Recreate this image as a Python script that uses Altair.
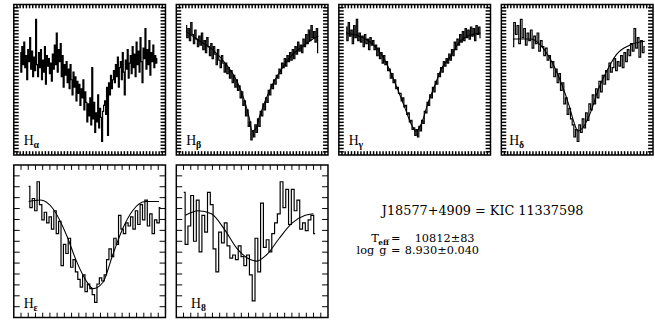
import altair as alt
import pandas as pd
import numpy as np

# ---------------- data (normalised flux vs relative wavelength) ----------------
ha_range = [0.043, 0.946]
ha_flux = [0.68, 0.55, 0.72, 0.60, 0.75, 0.58, 0.66, 0.50, 0.70, 0.62, 0.78, 0.57, 0.69, 0.52,
           0.65, 0.56, 0.90, 0.60, 0.52, 0.68, 0.58, 0.70, 0.50, 0.63, 0.55, 0.72, 0.47, 0.66, 0.59, 0.64,
           0.54, 0.61, 0.49, 0.67, 0.57, 0.73, 0.60, 0.81, 0.55, 0.70, 0.62, 0.74, 0.52, 0.66, 0.45, 0.60, 0.53,
           0.62, 0.48, 0.57, 0.44, 0.60, 0.50, 0.40, 0.55, 0.45, 0.52, 0.36, 0.49, 0.41, 0.47, 0.33, 0.44, 0.38,
           0.50, 0.30, 0.42, 0.35,
           0.22, 0.34, 0.26, 0.38, 0.20, 0.58, 0.24, 0.35, 0.15, 0.28, 0.22, 0.40, 0.18, 0.31, 0.25, 0.09, 0.29, 0.33,
           0.36, 0.27, 0.45, 0.13, 0.48, 0.40, 0.53, 0.44, 0.50, 0.56,
           0.48, 0.60, 0.52, 0.65, 0.45, 0.58, 0.62, 0.50, 0.68, 0.55, 0.40, 0.63, 0.57, 0.70, 0.51, 0.61, 0.66, 0.54,
           0.72, 0.58, 0.67, 0.52, 0.75, 0.60, 0.69, 0.55, 0.78, 0.62, 0.48, 0.71, 0.64, 0.84, 0.57, 0.70, 0.60,
           0.76, 0.53, 0.68, 0.62, 0.73, 0.58, 0.66, 0.61, 0.64]

hb_range = [0.064, 0.936]
hb_flux = [0.86, 0.78, 0.84, 0.76, 0.88, 0.80, 0.74, 0.83, 0.77, 0.72,
           0.79, 0.73, 0.81, 0.70, 0.76, 0.68, 0.78, 0.72, 0.66, 0.74,
           0.64, 0.72, 0.67, 0.60, 0.70, 0.63, 0.58, 0.66, 0.61, 0.55,
           0.61, 0.54, 0.58, 0.51, 0.56, 0.48, 0.53, 0.45, 0.50, 0.43,
           0.46, 0.38, 0.42, 0.33, 0.36, 0.26, 0.30, 0.19, 0.22, 0.10,
           0.16, 0.12, 0.20, 0.15, 0.24, 0.19, 0.29, 0.26, 0.34, 0.30,
           0.38, 0.35, 0.43, 0.40, 0.47, 0.44, 0.50, 0.47, 0.53, 0.51,
           0.57, 0.54, 0.61, 0.58, 0.64, 0.59, 0.66, 0.62, 0.68, 0.63,
           0.70, 0.64, 0.72, 0.67, 0.75, 0.69, 0.73, 0.68, 0.77, 0.72,
           0.80, 0.74, 0.83, 0.76, 0.86, 0.78, 0.82, 0.75, 0.84, 0.68]
hb_model_x = [0.064, 0.15, 0.25, 0.33, 0.40, 0.45, 0.48, 0.50, 0.52, 0.55, 0.59, 0.64, 0.70, 0.76, 0.83, 0.90, 0.936]
hb_model_y = [0.82, 0.76, 0.69, 0.60, 0.49, 0.36, 0.25, 0.16, 0.17, 0.26, 0.37, 0.48, 0.58, 0.66, 0.72, 0.77, 0.79]

hg_range = [0.048, 0.935]
hg_flux = [0.85, 0.76, 0.88, 0.79, 0.83, 0.74, 0.86, 0.78, 0.90, 0.76,
           0.81, 0.75, 0.79, 0.72, 0.80, 0.74, 0.77, 0.70, 0.78, 0.73,
           0.76, 0.70, 0.73, 0.66, 0.71, 0.64, 0.68, 0.61, 0.66, 0.60,
           0.62, 0.56, 0.57, 0.51, 0.54, 0.48, 0.50, 0.44, 0.45, 0.41,
           0.41, 0.36, 0.38, 0.32, 0.33, 0.27, 0.28, 0.22, 0.23, 0.17,
           0.18, 0.13, 0.17, 0.12, 0.19, 0.16, 0.23, 0.21, 0.29, 0.28,
           0.35, 0.33, 0.40, 0.38, 0.45, 0.42, 0.49, 0.47, 0.54, 0.52,
           0.58, 0.55, 0.62, 0.59, 0.64, 0.61, 0.67, 0.63, 0.70, 0.66,
           0.75, 0.70, 0.77, 0.73, 0.80, 0.75, 0.82, 0.76, 0.84, 0.78,
           0.83, 0.77, 0.85, 0.79, 0.84, 0.76, 0.86, 0.80, 0.85, 0.78]
hg_model_x = [0.048, 0.156, 0.22, 0.286, 0.35, 0.394, 0.437, 0.48, 0.506, 0.545, 0.589, 0.632, 0.675, 0.74, 0.78, 0.85, 0.935]
hg_model_y = [0.81, 0.78, 0.74, 0.66, 0.53, 0.42, 0.31, 0.20, 0.16, 0.21, 0.35, 0.46, 0.57, 0.66, 0.73, 0.79, 0.81]

hd_range = [0.076, 0.946]
hd_flux = [0.72, 0.88, 0.80, 0.86, 0.74, 0.90, 0.78, 0.84, 0.73, 0.81,
           0.76, 0.83, 0.71, 0.79, 0.74, 0.81, 0.69, 0.76, 0.72, 0.66,
           0.71, 0.63, 0.66, 0.58, 0.62, 0.52, 0.57, 0.48, 0.54, 0.43,
           0.48, 0.34, 0.38, 0.27, 0.31, 0.24, 0.20, 0.12, 0.17, 0.09,
           0.20, 0.15, 0.24, 0.18, 0.28, 0.23, 0.34, 0.30, 0.40, 0.34,
           0.44, 0.38, 0.49, 0.42, 0.53, 0.47, 0.56, 0.50, 0.61, 0.55,
           0.58, 0.64, 0.56, 0.62, 0.59, 0.66, 0.58, 0.68, 0.62, 0.70,
           0.66, 0.74, 0.69, 0.84, 0.71, 0.78, 0.65, 0.76, 0.68, 0.72]
hd_model_x = [0.076, 0.196, 0.283, 0.348, 0.402, 0.446, 0.478, 0.504, 0.543, 0.587, 0.641, 0.696, 0.761, 0.848, 0.946]
hd_model_y = [0.77, 0.77, 0.70, 0.59, 0.46, 0.33, 0.22, 0.16, 0.19, 0.28, 0.44, 0.56, 0.67, 0.73, 0.755]

he_range = [0.098, 0.967]
he_flux = [0.86, 0.72, 0.78, 0.70, 0.89, 0.74, 0.64, 0.69, 0.62, 0.66,
           0.58, 0.70, 0.55, 0.63, 0.34, 0.48, 0.42, 0.52, 0.33, 0.38,
           0.30, 0.25, 0.20, 0.28, 0.17, 0.22, 0.19, 0.15, 0.10, 0.22,
           0.26, 0.24, 0.28, 0.38, 0.45, 0.40, 0.52, 0.48, 0.67, 0.58,
           0.55, 0.62, 0.60, 0.66, 0.58, 0.70, 0.61, 0.74, 0.64, 0.77,
           0.60, 0.68, 0.55, 0.64, 0.62, 0.72]
he_model_x = [0.098, 0.174, 0.261, 0.348, 0.413, 0.478, 0.522, 0.587, 0.652, 0.717, 0.783, 0.870, 0.957]
he_model_y = [0.76, 0.77, 0.71, 0.54, 0.37, 0.24, 0.19, 0.23, 0.41, 0.58, 0.70, 0.76, 0.76]

h8_range = [0.049, 0.915]
h8_flux = [0.82, 0.48, 0.60, 0.80, 0.50, 0.77, 0.43, 0.67, 0.56, 0.82,
           0.74, 0.45, 0.30, 0.56, 0.49, 0.62, 0.47, 0.39, 0.41, 0.38,
           0.47, 0.40, 0.34, 0.41, 0.28, 0.11, 0.52, 0.30, 0.75, 0.46,
           0.51, 0.43, 0.55, 0.62, 0.68, 0.89, 0.72, 0.84, 0.61, 0.84,
           0.70, 0.77, 0.58, 0.62, 0.57, 0.64, 0.67, 0.55]
h8_model_x = [0.06, 0.145, 0.231, 0.316, 0.402, 0.487, 0.53, 0.594, 0.679, 0.765, 0.85, 0.904]
h8_model_y = [0.67, 0.70, 0.68, 0.58, 0.45, 0.38, 0.37, 0.41, 0.52, 0.62, 0.67, 0.68]

title_text = "J18577+4909 = KIC 11337598"
teff_text = "10812\u00b183"
logg_text = "8.930\u00b10.040"

SERIF = "Liberation Serif"
F2 = "DejaVu Serif"


def text_layer(txt, x, y, size, bold=False, align="left", font=SERIF):
    return alt.Chart(pd.DataFrame({"t": [txt]})).mark_text(
        font=font, fontSize=size, align=align, baseline="alphabetic", color="black",
        fontWeight="bold" if bold else "normal"
    ).encode(text="t:N", x=alt.value(x), y=alt.value(y))


def panel(flux, xr, mx, my, sub, w, h, ntx, nty, tx, ty, tw, lab_dx):
    df = pd.DataFrame({"wl": np.linspace(xr[0], xr[1], len(flux)), "flux": flux})
    xs = alt.Scale(domain=[0, 1], nice=False, zero=False)
    ys = alt.Scale(domain=[0, 1], nice=False, zero=False)
    X = lambda f: alt.X(f, scale=xs, axis=None)
    Y = lambda f: alt.Y(f, scale=ys, axis=None)
    layers = []
    # inward tick marks on all four sides (axis ticks)
    xt = pd.DataFrame({"wl": [i / ntx for i in range(1, ntx)]})
    yt = pd.DataFrame({"flux": [i / nty for i in range(1, nty)]})
    rule = dict(color="black", strokeWidth=tw)
    layers.append(alt.Chart(xt).mark_rule(**rule).encode(x=X("wl:Q"), y=alt.value(h - tx), y2=alt.value(h)))
    layers.append(alt.Chart(xt).mark_rule(**rule).encode(x=X("wl:Q"), y=alt.value(0), y2=alt.value(tx)))
    layers.append(alt.Chart(yt).mark_rule(**rule).encode(y=Y("flux:Q"), x=alt.value(0), x2=alt.value(ty)))
    layers.append(alt.Chart(yt).mark_rule(**rule).encode(y=Y("flux:Q"), x=alt.value(w - ty), x2=alt.value(w)))
    # observed spectrum
    layers.append(alt.Chart(df).mark_line(interpolate="step", color="black", strokeWidth=1.2, clip=True)
                  .encode(x=X("wl:Q"), y=Y("flux:Q")))
    # model fit
    if mx:
        mdf = pd.DataFrame({"wl": mx, "flux": my})
        layers.append(alt.Chart(mdf).mark_line(interpolate="monotone", color="black", strokeWidth=1.1, clip=True)
                      .encode(x=X("wl:Q"), y=Y("flux:Q")))
    layers.append(text_layer("H", lab_dx, h - 10, 14))
    layers.append(text_layer(sub, lab_dx + 10, h - 7, 10, bold=True))
    return alt.layer(*layers).properties(width=w, height=h)


W = 154
H1 = 153
H2 = 155

p1 = panel(ha_flux, ha_range, None, None, "\u03b1", W, H1, 48, 46, 4, 5, 1.5, 10)
p2 = panel(hb_flux, hb_range, hb_model_x, hb_model_y, "\u03b2", W, H1, 48, 46, 4, 5, 1.5, 10)
p3 = panel(hg_flux, hg_range, hg_model_x, hg_model_y, "\u03b3", W, H1, 48, 46, 4, 5, 1.5, 10)
p4 = panel(hd_flux, hd_range, hd_model_x, hd_model_y, "\u03b4", W, H1, 48, 46, 4, 5, 1.5, 8)
p5 = panel(he_flux, he_range, he_model_x, he_model_y, "\u03b5", W, H2, 21, 14, 5, 6, 1, 10)
p6 = panel(h8_flux, h8_range, h8_model_x, h8_model_y, "8", W, H2, 21, 14, 5, 6, 1, 15)

info = alt.layer(
    text_layer(title_text, 147, 51, 13, align="center", font=F2),
    text_layer("T", 34, 78, 11.5, font=F2),
    text_layer("eff", 41, 81, 7.5, bold=True, font=F2),
    text_layer("=", 54, 78, 11.5, font=F2),
    text_layer(teff_text, 78, 78, 11.5, font=F2),
    text_layer("log", 19, 90, 11.5, font=F2),
    text_layer("g", 42, 90, 11.5, font=F2),
    text_layer("=", 54, 90, 11.5, font=F2),
    text_layer(logg_text, 68, 90, 11.5, font=F2),
).properties(width=310, height=H2, view=alt.ViewBackground(stroke="transparent"))

row1 = alt.hconcat(p1, p2, p3, p4, spacing=7)
row2 = alt.hconcat(p5, p6, info, spacing=7)

chart = alt.vconcat(row1, row2, spacing=6).properties(
    padding={"left": 12, "top": 0, "right": 0, "bottom": 0},
    background="white",
).configure_view(stroke="black", strokeWidth=1.5)

chart.save("out.html", embed_options={"renderer": "svg", "actions": False})
